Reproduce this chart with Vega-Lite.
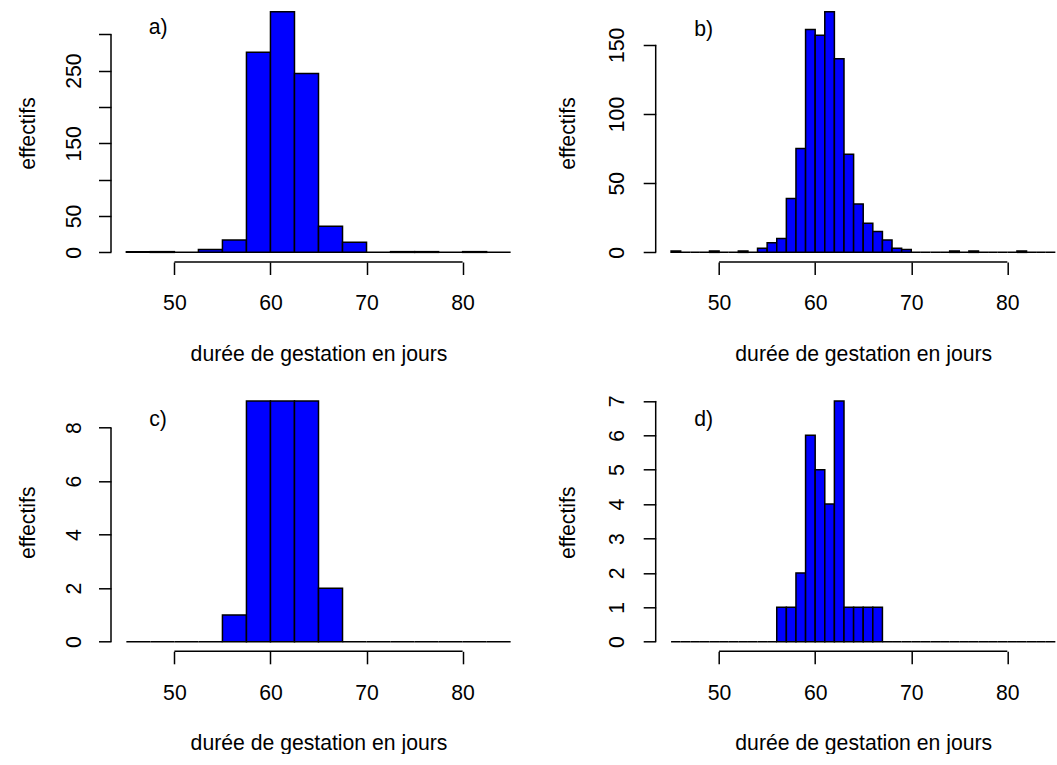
{
  "$schema": "https://vega.github.io/schema/vega-lite/v6.json",
  "background": "white",
  "autosize": {"type": "pad"},
  "padding": {"left": 17, "top": 2, "right": 0, "bottom": 0},
  "config": {
    "view": {"stroke": null},
    "font": "Liberation Sans",
    "axis": {
      "domain": false, "grid": false, "ticks": true,
      "tickSize": 12.5, "tickWidth": 1.5, "tickColor": "black",
      "labelFont": "Liberation Sans", "labelFontSize": 21.2, "labelColor": "black",
      "labelFlush": false, "labelOverlap": false, "labelBound": false,
      "titleFont": "Liberation Sans", "titleFontSize": 21.2, "titleFontWeight": "normal", "titleColor": "black"
    },
    "axisX": {
      "labelAngle": 0, "labelAlign": "center", "labelBaseline": "alphabetic", "labelPadding": 35.3,
      "titleX": 207.5, "titleY": 98, "titleAlign": "center", "titleBaseline": "alphabetic", "titleAngle": 0
    },
    "axisY": {
      "labelAngle": 270, "labelAlign": "center", "labelBaseline": "alphabetic", "labelPadding": 17.8,
      "titleAngle": 270, "titleX": -77, "titleY": 131, "titleAlign": "center", "titleBaseline": "alphabetic"
    },
    "text": {"font": "Liberation Sans", "fontSize": 21.2, "color": "black"}
  },
  "datasets": {
    "a": [
      {"start": 45, "end": 47.5, "count": 1},
      {"start": 47.5, "end": 50, "count": 1},
      {"start": 50, "end": 52.5, "count": 0},
      {"start": 52.5, "end": 55, "count": 4},
      {"start": 55, "end": 57.5, "count": 17},
      {"start": 57.5, "end": 60, "count": 275},
      {"start": 60, "end": 62.5, "count": 331},
      {"start": 62.5, "end": 65, "count": 246},
      {"start": 65, "end": 67.5, "count": 36},
      {"start": 67.5, "end": 70, "count": 14},
      {"start": 70, "end": 72.5, "count": 0},
      {"start": 72.5, "end": 75, "count": 1},
      {"start": 75, "end": 77.5, "count": 1},
      {"start": 77.5, "end": 80, "count": 0},
      {"start": 80, "end": 82.5, "count": 1},
      {"start": 82.5, "end": 85, "count": 0}
    ],
    "b": [
      {"start": 45, "end": 46, "count": 1},
      {"start": 46, "end": 47, "count": 0},
      {"start": 47, "end": 48, "count": 0},
      {"start": 48, "end": 49, "count": 0},
      {"start": 49, "end": 50, "count": 1},
      {"start": 50, "end": 51, "count": 0},
      {"start": 51, "end": 52, "count": 0},
      {"start": 52, "end": 53, "count": 1},
      {"start": 53, "end": 54, "count": 0},
      {"start": 54, "end": 55, "count": 3},
      {"start": 55, "end": 56, "count": 7},
      {"start": 56, "end": 57, "count": 10},
      {"start": 57, "end": 58, "count": 39},
      {"start": 58, "end": 59, "count": 75},
      {"start": 59, "end": 60, "count": 161},
      {"start": 60, "end": 61, "count": 157},
      {"start": 61, "end": 62, "count": 174},
      {"start": 62, "end": 63, "count": 140},
      {"start": 63, "end": 64, "count": 71},
      {"start": 64, "end": 65, "count": 35},
      {"start": 65, "end": 66, "count": 21},
      {"start": 66, "end": 67, "count": 15},
      {"start": 67, "end": 68, "count": 9},
      {"start": 68, "end": 69, "count": 3},
      {"start": 69, "end": 70, "count": 2},
      {"start": 70, "end": 71, "count": 0},
      {"start": 71, "end": 72, "count": 0},
      {"start": 72, "end": 73, "count": 0},
      {"start": 73, "end": 74, "count": 0},
      {"start": 74, "end": 75, "count": 1},
      {"start": 75, "end": 76, "count": 0},
      {"start": 76, "end": 77, "count": 1},
      {"start": 77, "end": 78, "count": 0},
      {"start": 78, "end": 79, "count": 0},
      {"start": 79, "end": 80, "count": 0},
      {"start": 80, "end": 81, "count": 0},
      {"start": 81, "end": 82, "count": 1},
      {"start": 82, "end": 83, "count": 0},
      {"start": 83, "end": 84, "count": 0},
      {"start": 84, "end": 85, "count": 0}
    ],
    "c": [
      {"start": 45, "end": 47.5, "count": 0},
      {"start": 47.5, "end": 50, "count": 0},
      {"start": 50, "end": 52.5, "count": 0},
      {"start": 52.5, "end": 55, "count": 0},
      {"start": 55, "end": 57.5, "count": 1},
      {"start": 57.5, "end": 60, "count": 9},
      {"start": 60, "end": 62.5, "count": 9},
      {"start": 62.5, "end": 65, "count": 9},
      {"start": 65, "end": 67.5, "count": 2},
      {"start": 67.5, "end": 70, "count": 0},
      {"start": 70, "end": 72.5, "count": 0},
      {"start": 72.5, "end": 75, "count": 0},
      {"start": 75, "end": 77.5, "count": 0},
      {"start": 77.5, "end": 80, "count": 0},
      {"start": 80, "end": 82.5, "count": 0},
      {"start": 82.5, "end": 85, "count": 0}
    ],
    "d": [
      {"start": 45, "end": 46, "count": 0},
      {"start": 46, "end": 47, "count": 0},
      {"start": 47, "end": 48, "count": 0},
      {"start": 48, "end": 49, "count": 0},
      {"start": 49, "end": 50, "count": 0},
      {"start": 50, "end": 51, "count": 0},
      {"start": 51, "end": 52, "count": 0},
      {"start": 52, "end": 53, "count": 0},
      {"start": 53, "end": 54, "count": 0},
      {"start": 54, "end": 55, "count": 0},
      {"start": 55, "end": 56, "count": 0},
      {"start": 56, "end": 57, "count": 1},
      {"start": 57, "end": 58, "count": 1},
      {"start": 58, "end": 59, "count": 2},
      {"start": 59, "end": 60, "count": 6},
      {"start": 60, "end": 61, "count": 5},
      {"start": 61, "end": 62, "count": 4},
      {"start": 62, "end": 63, "count": 7},
      {"start": 63, "end": 64, "count": 1},
      {"start": 64, "end": 65, "count": 1},
      {"start": 65, "end": 66, "count": 1},
      {"start": 66, "end": 67, "count": 1},
      {"start": 67, "end": 68, "count": 0},
      {"start": 68, "end": 69, "count": 0},
      {"start": 69, "end": 70, "count": 0},
      {"start": 70, "end": 71, "count": 0},
      {"start": 71, "end": 72, "count": 0},
      {"start": 72, "end": 73, "count": 0},
      {"start": 73, "end": 74, "count": 0},
      {"start": 74, "end": 75, "count": 0},
      {"start": 75, "end": 76, "count": 0},
      {"start": 76, "end": 77, "count": 0},
      {"start": 77, "end": 78, "count": 0},
      {"start": 78, "end": 79, "count": 0},
      {"start": 79, "end": 80, "count": 0},
      {"start": 80, "end": 81, "count": 0},
      {"start": 81, "end": 82, "count": 0},
      {"start": 82, "end": 83, "count": 0},
      {"start": 83, "end": 84, "count": 0},
      {"start": 84, "end": 85, "count": 0}
    ]
  },
  "columns": 2,
  "bounds": "flush",
  "spacing": {"row": 129.3, "column": 129.7},
  "concat": [
    {
      "width": 415, "height": 260,
      "encoding": {
        "x": {"type": "quantitative",
          "scale": {"domain": [43.4, 86.6], "nice": false, "zero": false},
          "axis": {"values": [50, 60, 70, 80], "title": "durée de gestation en jours"}},
        "y": {"type": "quantitative",
          "scale": {"domain": [-13.24, 344.24], "nice": false, "zero": false},
          "axis": {"values": [0, 50, 100, 150, 200, 250, 300], "title": "effectifs",
            "labelPadding": 17.8, "titleX": -77,
            "labelExpr": "datum.value == 100 || datum.value == 200 || datum.value == 300 ? '' : datum.label"}}
      },
      "layer": [
        {
          "data": {"name": "a"},
          "mark": {"type": "bar", "fill": "#0000ff", "stroke": "black", "strokeWidth": 1.5},
          "encoding": {
            "x": {"field": "start"},
            "x2": {"field": "end"},
            "y": {"field": "count"},
            "y2": {"datum": 0}
          }
        },
        {
          "data": {"values": [{}]},
          "mark": {"type": "rule", "color": "black", "strokeWidth": 1.5},
          "encoding": {"x": {"datum": 50}, "x2": {"datum": 80}, "y": {"datum": -13.24}}
        },
        {
          "data": {"values": [{}]},
          "mark": {"type": "rule", "color": "black", "strokeWidth": 1.5},
          "encoding": {"x": {"datum": 43.4}, "y": {"datum": 0}, "y2": {"datum": 300}}
        },
        {
          "data": {"values": [{}]},
          "mark": {"type": "text", "text": "a)", "align": "center", "baseline": "middle"},
          "encoding": {"x": {"datum": 48.3}, "y": {"datum": 309}}
        }
      ]
    },
    {
      "width": 401, "height": 260,
      "encoding": {
        "x": {"type": "quantitative",
          "scale": {"domain": [43.4, 85.14], "nice": false, "zero": false},
          "axis": {"values": [50, 60, 70, 80], "title": "durée de gestation en jours"}},
        "y": {"type": "quantitative",
          "scale": {"domain": [-6.96, 180.96], "nice": false, "zero": false},
          "axis": {"values": [0, 50, 100, 150], "title": "effectifs", "labelPadding": 20, "titleX": -81.5}}
      },
      "layer": [
        {
          "data": {"name": "b"},
          "mark": {"type": "bar", "fill": "#0000ff", "stroke": "black", "strokeWidth": 1.5},
          "encoding": {
            "x": {"field": "start"},
            "x2": {"field": "end"},
            "y": {"field": "count"},
            "y2": {"datum": 0}
          }
        },
        {
          "data": {"values": [{}]},
          "mark": {"type": "rule", "color": "black", "strokeWidth": 1.5},
          "encoding": {"x": {"datum": 50}, "x2": {"datum": 80}, "y": {"datum": -6.96}}
        },
        {
          "data": {"values": [{}]},
          "mark": {"type": "rule", "color": "black", "strokeWidth": 1.5},
          "encoding": {"x": {"datum": 43.4}, "y": {"datum": 0}, "y2": {"datum": 150}}
        },
        {
          "data": {"values": [{}]},
          "mark": {"type": "text", "text": "b)", "align": "center", "baseline": "middle"},
          "encoding": {"x": {"datum": 48.4}, "y": {"datum": 161}}
        }
      ]
    },
    {
      "width": 415, "height": 260,
      "encoding": {
        "x": {"type": "quantitative",
          "scale": {"domain": [43.4, 86.6], "nice": false, "zero": false},
          "axis": {"values": [50, 60, 70, 80], "title": "durée de gestation en jours"}},
        "y": {"type": "quantitative",
          "scale": {"domain": [-0.36, 9.36], "nice": false, "zero": false},
          "axis": {"values": [0, 2, 4, 6, 8], "title": "effectifs", "labelPadding": 17.8, "titleX": -77}}
      },
      "layer": [
        {
          "data": {"name": "c"},
          "mark": {"type": "bar", "fill": "#0000ff", "stroke": "black", "strokeWidth": 1.5},
          "encoding": {
            "x": {"field": "start"},
            "x2": {"field": "end"},
            "y": {"field": "count"},
            "y2": {"datum": 0}
          }
        },
        {
          "data": {"values": [{}]},
          "mark": {"type": "rule", "color": "black", "strokeWidth": 1.5},
          "encoding": {"x": {"datum": 50}, "x2": {"datum": 80}, "y": {"datum": -0.36}}
        },
        {
          "data": {"values": [{}]},
          "mark": {"type": "rule", "color": "black", "strokeWidth": 1.5},
          "encoding": {"x": {"datum": 43.4}, "y": {"datum": 0}, "y2": {"datum": 8}}
        },
        {
          "data": {"values": [{}]},
          "mark": {"type": "text", "text": "c)", "align": "center", "baseline": "middle"},
          "encoding": {"x": {"datum": 48.3}, "y": {"datum": 8.3}}
        }
      ]
    },
    {
      "width": 401, "height": 260,
      "encoding": {
        "x": {"type": "quantitative",
          "scale": {"domain": [43.4, 85.14], "nice": false, "zero": false},
          "axis": {"values": [50, 60, 70, 80], "title": "durée de gestation en jours"}},
        "y": {"type": "quantitative",
          "scale": {"domain": [-0.28, 7.28], "nice": false, "zero": false},
          "axis": {"values": [0, 1, 2, 3, 4, 5, 6, 7], "title": "effectifs", "labelPadding": 20, "titleX": -81.5}}
      },
      "layer": [
        {
          "data": {"name": "d"},
          "mark": {"type": "bar", "fill": "#0000ff", "stroke": "black", "strokeWidth": 1.5},
          "encoding": {
            "x": {"field": "start"},
            "x2": {"field": "end"},
            "y": {"field": "count"},
            "y2": {"datum": 0}
          }
        },
        {
          "data": {"values": [{}]},
          "mark": {"type": "rule", "color": "black", "strokeWidth": 1.5},
          "encoding": {"x": {"datum": 50}, "x2": {"datum": 80}, "y": {"datum": -0.28}}
        },
        {
          "data": {"values": [{}]},
          "mark": {"type": "rule", "color": "black", "strokeWidth": 1.5},
          "encoding": {"x": {"datum": 43.4}, "y": {"datum": 0}, "y2": {"datum": 7}}
        },
        {
          "data": {"values": [{}]},
          "mark": {"type": "text", "text": "d)", "align": "center", "baseline": "middle"},
          "encoding": {"x": {"datum": 48.4}, "y": {"datum": 6.45}}
        }
      ]
    }
  ]
}
